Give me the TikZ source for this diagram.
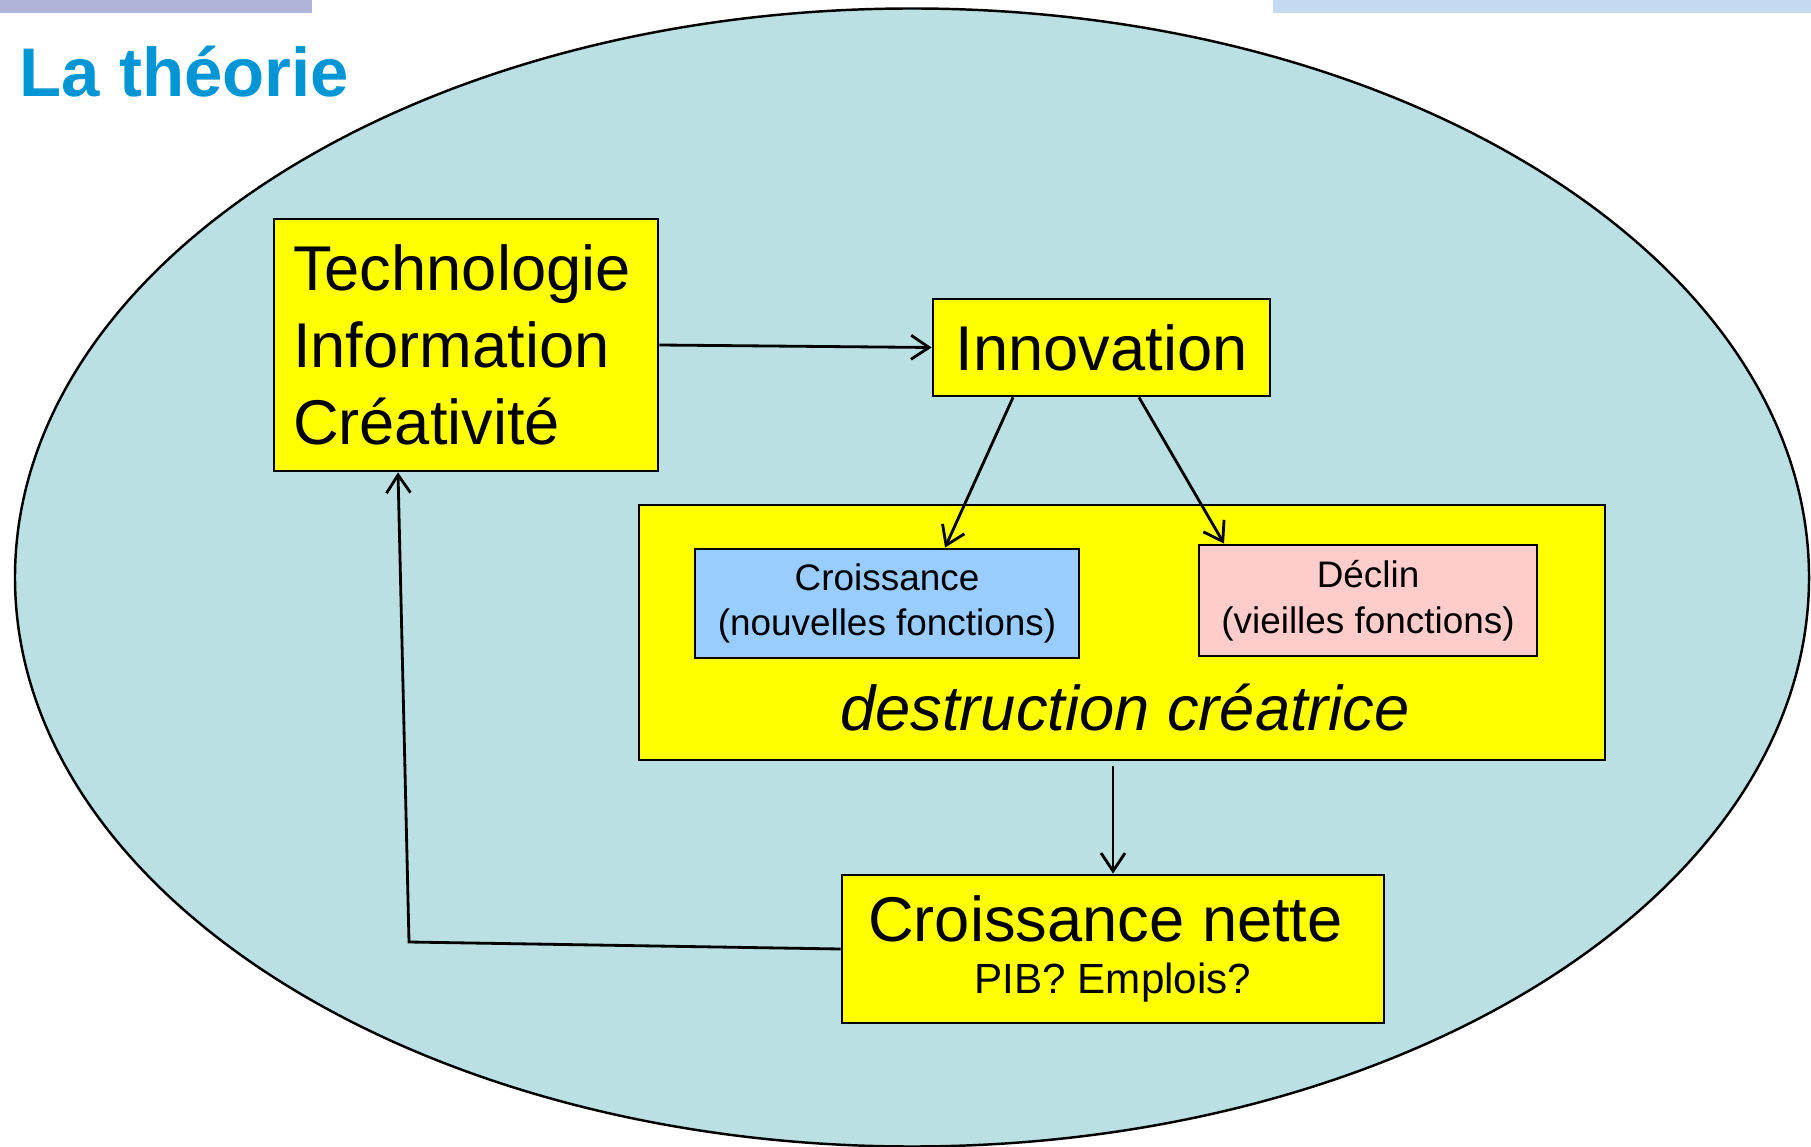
\documentclass[tikz,border=0pt]{standalone}
\usepackage{fontspec}
\setmainfont{Liberation Sans}
\usetikzlibrary{arrows.meta}

\definecolor{fond}{RGB}{186,224,227}
\definecolor{jaune}{RGB}{255,255,0}
\definecolor{bleu}{RGB}{153,204,255}
\definecolor{rose}{RGB}{255,204,204}
\definecolor{titre}{RGB}{0,150,214}
\definecolor{barreA}{RGB}{176,180,216}
\definecolor{barreB}{RGB}{197,217,241}

\begin{document}
\begin{tikzpicture}[
  >={Straight Barb[length=1.8mm,width=2.4mm]},
  boite/.style={draw, line width=0.8pt, fill=jaune},
  fleche/.style={->, line width=0.8pt}
]

\useasboundingbox (0,0) rectangle (18.11,-11.47);
\fill[white] (0,0) rectangle (18.11,-11.47);
\fill[barreA] (0,0) rectangle (3.12,-0.13);
\fill[barreB] (12.73,0) rectangle (18.11,-0.13);

\node [anchor=base west, inner sep=0pt, text=titre, font=\fontsize{19.6}{22}\selectfont\bfseries] (titre) at (0.19,-0.97) {La théorie};

\draw [fill=fond, line width=0.7pt] (9.12,-5.775) ellipse [x radius=8.97, y radius=5.69];

\node [boite, minimum width=3.84cm, minimum height=2.52cm, text width=3.46cm, inner xsep=0.19cm, align=left, font=\fontsize{18}{21.9}\selectfont] (tech) at (4.66,-3.45) {Technologie\\Information\\Créativité};
\node [boite, minimum width=3.37cm, minimum height=0.97cm, font=\fontsize{18}{21}\selectfont] (innov) at (11.015,-3.475) {Innovation};
\node [boite, minimum width=9.66cm, minimum height=2.55cm] (destr) at (11.22,-6.325) {};
\node [draw, line width=0.8pt, fill=bleu, minimum width=3.84cm, minimum height=1.09cm, align=center, font=\fontsize{10.5}{13}\selectfont] (crois) at (8.87,-6.035) {Croissance\\(nouvelles fonctions)};
\node [draw, line width=0.8pt, fill=rose, minimum width=3.38cm, minimum height=1.11cm, align=center, font=\fontsize{10.5}{13}\selectfont] (declin) at (13.68,-6.005) {Déclin\\(vieilles fonctions)};
\node [anchor=base, inner sep=0pt, font=\fontsize{18}{21}\selectfont\itshape] (dc) at (11.25,-7.30) {destruction créatrice};
\node [boite, minimum width=5.42cm, minimum height=1.48cm, align=center, font=\fontsize{12}{14}\selectfont] (nette) at (11.13,-9.49) {{\fontsize{18}{21}\selectfont Croissance nette}\hspace*{0.15cm}\\[1pt]PIB? Emplois?};

\coordinate (coin) at (4.09,-9.42);

\draw [fleche] (tech.east) -- (innov.west);
\draw [fleche] ([xshift=-0.885cm]innov.south) -- ([xshift=0.58cm]crois.north);
\draw [fleche] ([xshift=0.375cm]innov.south) -- ([xshift=-1.44cm]declin.north);
\draw [fleche] ([yshift=-0.05cm]destr.south -| nette.north) -- (nette.north);
\draw [fleche] (nette.west) -- (coin) -- ([xshift=-0.68cm]tech.south);

\end{tikzpicture}
\end{document}
